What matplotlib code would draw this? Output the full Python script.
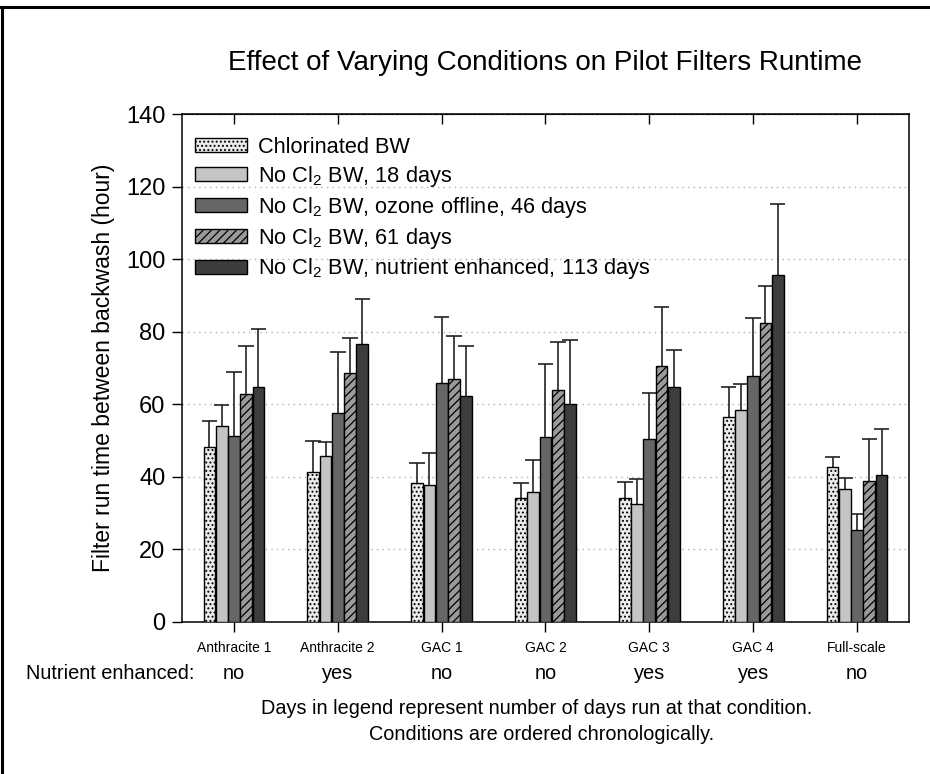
"""
Effect of varying conditions on pilot filters runtime - grouped bar chart
"""
import numpy as np
import matplotlib
matplotlib.use("Agg")
import matplotlib.pyplot as plt
from matplotlib.lines import Line2D

plt.rcParams['font.family'] = ['Liberation Sans', 'DejaVu Sans']
plt.rcParams['mathtext.fontset'] = 'custom'
plt.rcParams['mathtext.rm'] = 'Liberation Sans'
plt.rcParams['mathtext.it'] = 'Liberation Sans:italic'
plt.rcParams['hatch.linewidth'] = 0.9

# Du lieu
filters = ['Anthracite 1', 'Anthracite 2', 'GAC 1', 'GAC 2', 'GAC 3', 'GAC 4', 'Full-scale']
nutrient = ['no', 'yes', 'no', 'no', 'yes', 'yes', 'no']
conditions = ['Chlorinated BW',
              'No Cl$_2$ BW, 18 days',
              'No Cl$_2$ BW, ozone offline, 46 days',
              'No Cl$_2$ BW, 61 days',
              'No Cl$_2$ BW, nutrient enhanced, 113 days']

chlorinated = [48.1, 41.3, 38.4, 34.2, 34.2, 56.4, 42.7]
nocl_18 = [54.1, 45.8, 37.7, 35.8, 32.5, 58.3, 36.7]
nocl_ozone = [51.3, 57.7, 65.9, 51.1, 50.4, 67.9, 25.4]
nocl_61 = [62.7, 68.7, 67.0, 63.8, 70.6, 82.4, 38.8]
nocl_nutr = [64.7, 76.7, 62.3, 60.1, 64.9, 95.6, 40.5]

# sai so (chi ve phia tren)
err_chlorinated = [7.3, 8.6, 5.5, 4.2, 4.5, 8.4, 2.7]
err_18 = [5.6, 3.9, 8.8, 8.9, 7.0, 7.4, 3.0]
err_ozone = [17.5, 16.8, 18.1, 19.9, 12.6, 15.9, 4.3]
err_61 = [13.3, 9.7, 11.9, 13.5, 16.1, 10.2, 11.5]
err_nutr = [16.1, 12.2, 13.9, 17.5, 10.1, 19.6, 12.7]

series = [chlorinated, nocl_18, nocl_ozone, nocl_61, nocl_nutr]
errors = [err_chlorinated, err_18, err_ozone, err_61, err_nutr]
colors = ['#ebebeb', '#c4c4c4', '#666666', '#9a9a9a', '#3d3d3d']
hatches = ['....', '', '', '////', '']

fig = plt.figure(figsize=(9.3, 7.74), dpi=100)
ax = fig.add_axes([0.1957, 0.1964, 0.7817, 0.6563])

x = np.arange(len(filters))
bw = 0.113
step = 0.118
for i, (vals, errs) in enumerate(zip(series, errors)):
    xpos = x + (i - 2) * step
    vals = np.array(vals)
    errs = np.array(errs)
    ax.bar(xpos, vals, bw, color=colors[i], edgecolor='black', linewidth=1.0,
           hatch=hatches[i], label=conditions[i], zorder=3)
    ax.vlines(xpos, vals, vals + errs, color='#222222', linewidth=1.2, zorder=2)
    ax.hlines(vals + errs, xpos - 0.075, xpos + 0.075, color='#222222', linewidth=1.2, zorder=2)

ax.set_xlim(-0.5, 6.5)
ax.set_ylim(0, 140)
ax.set_yticks(np.arange(0, 141, 20))
ax.set_xticks(x)
ax.set_xticklabels(filters, fontsize=10)
ax.tick_params(axis='y', labelsize=17, direction='out', length=7, width=1, pad=5)
ax.tick_params(axis='x', direction='out', length=7, width=1, pad=7)
# tick tren truc tren huong vao trong
sec = ax.secondary_xaxis('top')
sec.set_xticks(x)
sec.tick_params(direction='in', length=7, width=1, labeltop=False)

ax.grid(axis='y', linestyle=(0, (1, 3)), color='#b0b0b0', linewidth=1, zorder=0)
for s in ax.spines.values():
    s.set_linewidth(1.1)

ax.set_ylabel('Filter run time between backwash (hour)', fontsize=16.5, labelpad=8)
ax.set_title('Effect of Varying Conditions on Pilot Filters Runtime', fontsize=20, pad=32)

leg = ax.legend(loc='upper left', frameon=False, fontsize=15.7, handlelength=2.4,
                handleheight=0.6, labelspacing=0.27, borderaxespad=0.3,
                handletextpad=0.5, bbox_to_anchor=(-0.003, 0.985))

# hang nutrient enhanced
for xi, lab in zip(x, nutrient):
    ax.text(xi, -0.101, lab, transform=ax.get_xaxis_transform(), ha='center', va='center',
            fontsize=14.4)
ax.text(0.017, -0.101, 'Nutrient enhanced:', transform=ax.transAxes, ha='right', va='center',
        fontsize=14.4)

fig.text(0.577, 1 - 709 / 774, 'Days in legend represent number of days run at that condition.',
         ha='center', va='center', fontsize=14.3)
fig.text(0.582, 1 - 735 / 774, 'Conditions are ordered chronologically.',
         ha='center', va='center', fontsize=14.3)

# khung vien hinh
fig.add_artist(Line2D([0, 1], [1 - 7 / 774, 1 - 7 / 774], color='black', linewidth=2.2))
fig.add_artist(Line2D([2 / 930, 2 / 930], [0, 1 - 7 / 774], color='black', linewidth=2.2))

fig.savefig('out.png', dpi=100)
